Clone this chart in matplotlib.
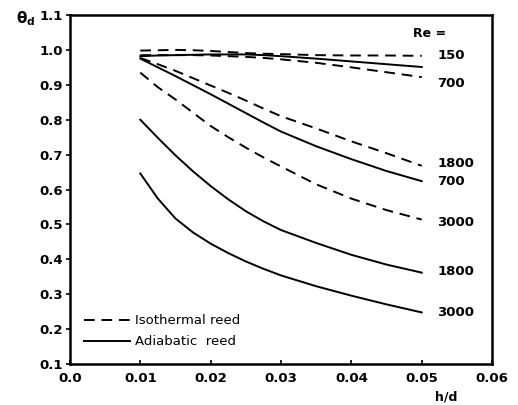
import matplotlib
matplotlib.use('Agg')
import matplotlib.pyplot as plt

# h/d positions
hd = [0.01, 0.0125, 0.015, 0.0175, 0.02, 0.0225, 0.025, 0.0275, 0.03,
      0.035, 0.04, 0.045, 0.05]

# isothermal reed (dashed)
iso_150 = [0.998, 0.999, 1.000, 0.999, 0.997, 0.994, 0.991, 0.989, 0.988,
           0.985, 0.984, 0.984, 0.983]
iso_700 = [0.985, 0.985, 0.985, 0.985, 0.984, 0.982, 0.980, 0.977, 0.973,
           0.963, 0.950, 0.936, 0.922]
iso_1800 = [0.977, 0.959, 0.940, 0.919, 0.898, 0.877, 0.855, 0.832, 0.810,
            0.775, 0.738, 0.704, 0.668]
iso_3000 = [0.935, 0.893, 0.858, 0.820, 0.782, 0.750, 0.720, 0.692, 0.666,
            0.615, 0.574, 0.541, 0.514]

# adiabatic reed (solid)
adi_150 = [0.982, 0.984, 0.985, 0.986, 0.987, 0.987, 0.987, 0.985, 0.982,
           0.975, 0.967, 0.959, 0.951]
adi_700 = [0.975, 0.950, 0.925, 0.899, 0.873, 0.846, 0.819, 0.792, 0.766,
           0.724, 0.687, 0.653, 0.624]
adi_1800 = [0.800, 0.748, 0.698, 0.652, 0.610, 0.572, 0.538, 0.509, 0.484,
            0.447, 0.413, 0.385, 0.362]
adi_3000 = [0.646, 0.574, 0.517, 0.477, 0.445, 0.418, 0.394, 0.373, 0.354,
            0.323, 0.296, 0.271, 0.248]

# Re labels at the right end of the curves
label_text = ['150', '700', '1800', '700', '3000', '1800', '3000']
label_y = [0.985, 0.905, 0.676, 0.622, 0.507, 0.364, 0.249]

x_ticks = [0.0, 0.01, 0.02, 0.03, 0.04, 0.05, 0.06]
y_ticks = [0.1, 0.2, 0.3, 0.4, 0.5, 0.6, 0.7, 0.8, 0.9, 1.0, 1.1]

fig = plt.figure(figsize=(5.18, 4.05), dpi=100)
ax = fig.add_axes([0.135, 0.101, 0.815, 0.862])

dash = (0, (5.5, 3.5))
lw = 1.4
for ys in (iso_150, iso_700, iso_1800, iso_3000):
    ax.plot(hd, ys, color='black', lw=lw, linestyle=dash)
for ys in (adi_150, adi_700, adi_1800, adi_3000):
    ax.plot(hd, ys, color='black', lw=lw, linestyle='-')

for txt, yv in zip(label_text, label_y):
    ax.text(0.0522, yv, txt, fontsize=9.5, fontweight='bold',
            va='center', ha='left')
ax.text(0.0488, 1.046, 'Re =', fontsize=9, fontweight='bold',
        va='center', ha='left')

# legend drawn by hand, no frame
ax.plot([0.002, 0.0085], [0.225, 0.225], color='black', lw=lw, linestyle=dash)
ax.plot([0.002, 0.0085], [0.165, 0.165], color='black', lw=lw)
ax.text(0.0092, 0.225, 'Isothermal reed', fontsize=9.5, va='center')
ax.text(0.0092, 0.165, 'Adiabatic  reed', fontsize=9.5, va='center')

ax.set_xlim(0.0, 0.06)
ax.set_ylim(0.1, 1.1)
ax.set_xticks(x_ticks)
ax.set_yticks(y_ticks)
ax.set_xticklabels(['%.2f' % v if v else '0.0' for v in x_ticks])
ax.set_yticklabels(['%.1f' % v for v in y_ticks])
ax.tick_params(axis='x', direction='in', length=3, width=1.2, pad=6,
               labelsize=9.5)
ax.tick_params(axis='y', direction='out', length=3, width=1.2, pad=2,
               labelsize=9.5)
for lab in ax.get_xticklabels() + ax.get_yticklabels():
    lab.set_fontweight('bold')
for sp in ax.spines.values():
    sp.set_linewidth(1.8)

fig.text(0.03, 0.955, r'$\mathbf{\theta_d}$', fontsize=11, va='center')
fig.text(0.84, 0.02, 'h/d', fontsize=9, fontweight='bold', va='center')

fig.savefig('out.png', dpi=100)
